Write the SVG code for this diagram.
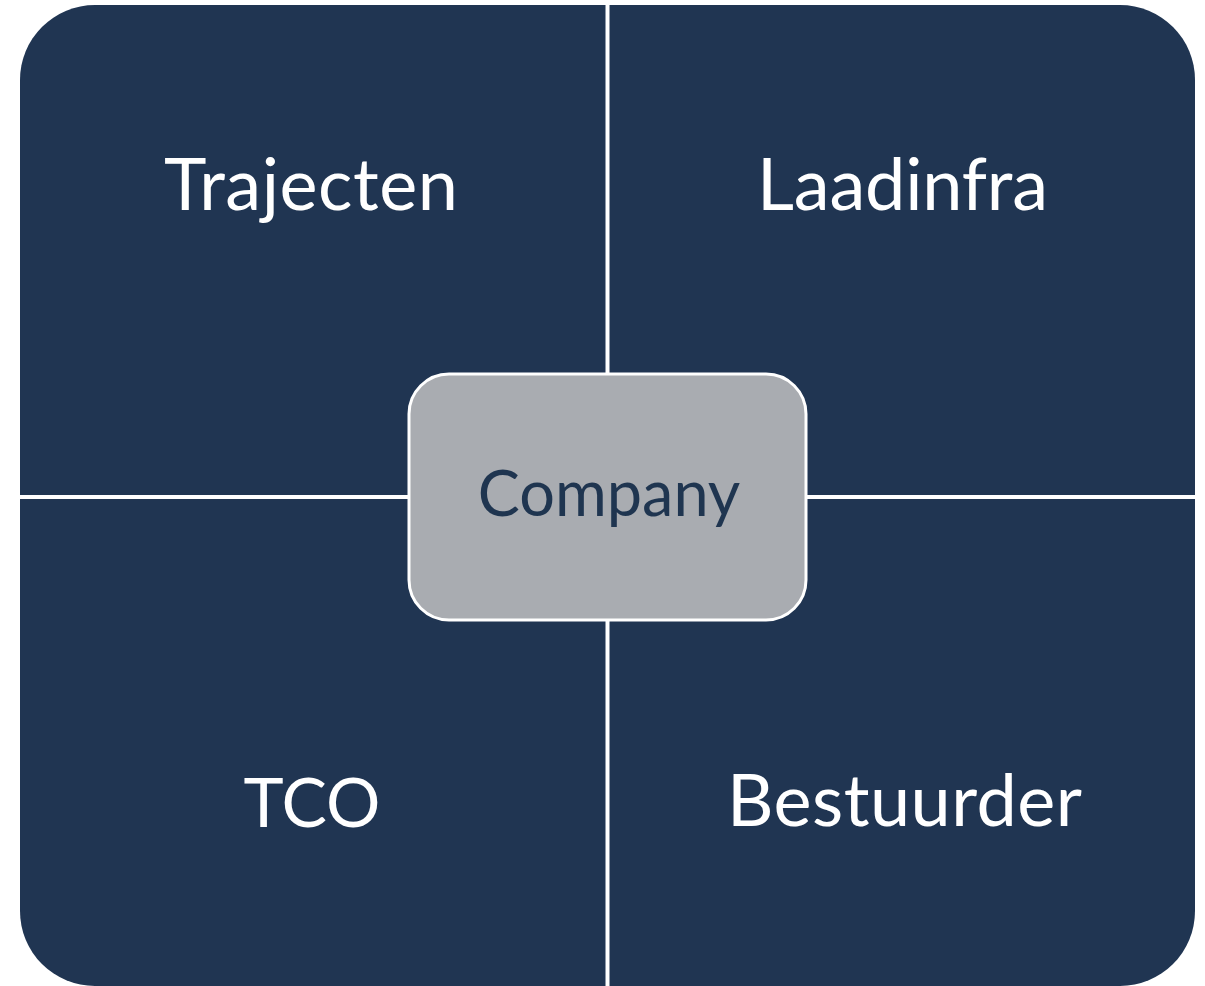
<svg xmlns="http://www.w3.org/2000/svg" width="1205" height="986" viewBox="0 0 1205 986">
  <style>
    .quad { fill: #203552; }
    .label { font-family: Lato, "Open Sans", "Liberation Sans", sans-serif; font-size: 72px; fill: #ffffff; text-anchor: middle; }
    .center-box { fill: #a9acb1; stroke: #ffffff; stroke-width: 3; }
    .center-label { font-family: Lato, "Open Sans", "Liberation Sans", sans-serif; font-size: 63px; fill: #1f3550; text-anchor: middle; }
  </style>
  <rect width="1205" height="986" fill="#ffffff"/>
  <g id="quadrant-trajecten">
    <path class="quad" d="M95,5 H605.5 V495 H20 V80 A75,75 0 0 1 95,5 Z"/>
    <text class="label" x="311" y="210" textLength="294">Trajecten</text>
  </g>
  <g id="quadrant-laadinfra">
    <path class="quad" d="M609.5,5 H1120 A75,75 0 0 1 1195,80 V495 H609.5 Z"/>
    <text class="label" x="902.5" y="210" textLength="291">Laadinfra</text>
  </g>
  <g id="quadrant-tco">
    <path class="quad" d="M20,499 H605.5 V986 H95 A75,75 0 0 1 20,911 Z"/>
    <text class="label" x="312" y="827" style="font-size:68px">TCO</text>
  </g>
  <g id="quadrant-bestuurder">
    <path class="quad" d="M609.5,499 H1195 V911 A75,75 0 0 1 1120,986 H609.5 Z"/>
    <text class="label" x="904.5" y="826" textLength="355">Bestuurder</text>
  </g>
  <g id="connectors"></g>
  <g id="node-company">
    <rect class="center-box" x="409" y="374" width="397" height="246" rx="40" ry="40"/>
    <text class="center-label" x="609" y="516">Company</text>
  </g>
</svg>
